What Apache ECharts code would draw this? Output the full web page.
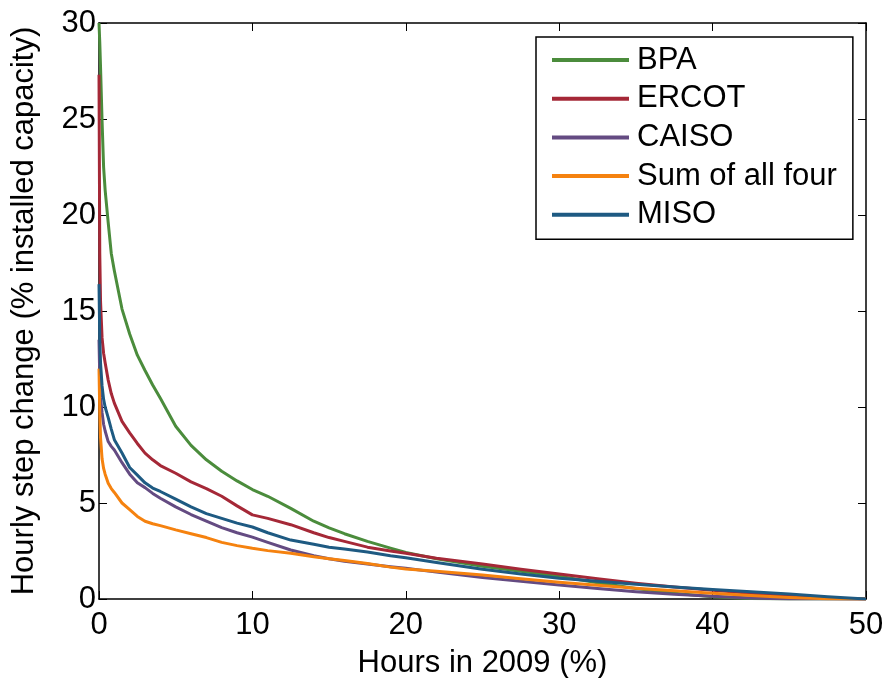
<!DOCTYPE html>
<html>
<head>
<meta charset="utf-8">
<script src="https://cdn.jsdelivr.net/npm/echarts@6/dist/echarts.min.js"></script>
<style>
html,body{margin:0;padding:0;background:#fff;}
#chart{width:888px;height:678px;}
</style>
</head>
<body>
<div id="chart"></div>
<script>
// Hours in 2009 (%)
var hours  = [0, 0.05, 0.1, 0.2, 0.3, 0.4, 0.6, 0.8, 1.0, 1.5, 2, 2.5, 3, 3.5, 4, 5, 6, 7, 8, 9, 10, 11, 12.5, 14, 15, 16, 17.5, 19, 20, 22, 25, 27.5, 30, 32.5, 35, 37.5, 40, 42.5, 45, 47.5, 50];
var bpa    = [30, 29, 27.7, 24.9, 22.5, 21.3, 19.6, 18.0, 17.1, 15.1, 13.8, 12.7, 11.9, 11.15, 10.45, 9.0, 8.0, 7.25, 6.65, 6.15, 5.7, 5.35, 4.72, 4.05, 3.7, 3.4, 3.0, 2.65, 2.42, 2.1, 1.7, 1.45, 1.18, 0.85, 0.55, 0.3, 0.12, 0.03, 0, 0, 0];
var ercot  = [27.3, 18, 15.5, 13.6, 12.8, 12.3, 11.4, 10.7, 10.2, 9.25, 8.65, 8.1, 7.6, 7.25, 6.95, 6.55, 6.1, 5.75, 5.35, 4.85, 4.38, 4.2, 3.87, 3.45, 3.2, 3.0, 2.7, 2.5, 2.38, 2.12, 1.82, 1.55, 1.3, 1.05, 0.82, 0.62, 0.45, 0.3, 0.15, 0.03, 0];
var caiso  = [13.5, 11.5, 10.5, 9.7, 9.1, 8.75, 8.2, 7.95, 7.76, 7.1, 6.5, 6.05, 5.8, 5.5, 5.25, 4.8, 4.4, 4.05, 3.72, 3.45, 3.22, 2.95, 2.55, 2.25, 2.1, 1.97, 1.82, 1.68, 1.6, 1.4, 1.12, 0.92, 0.73, 0.55, 0.38, 0.25, 0.14, 0.05, 0, 0, 0];
var sumAll = [12.0, 9.7, 8.4, 7.3, 6.8, 6.5, 6.03, 5.75, 5.55, 5.0, 4.65, 4.3, 4.05, 3.92, 3.82, 3.6, 3.4, 3.2, 2.95, 2.78, 2.64, 2.52, 2.38, 2.2, 2.1, 2.0, 1.85, 1.66, 1.56, 1.45, 1.25, 1.05, 0.87, 0.72, 0.56, 0.43, 0.3, 0.18, 0.08, 0.01, 0];
var miso   = [16.4, 13.5, 12.3, 11.1, 10.4, 10.0, 9.45, 8.85, 8.3, 7.6, 6.85, 6.45, 6.05, 5.78, 5.6, 5.2, 4.8, 4.45, 4.2, 3.95, 3.75, 3.45, 3.07, 2.85, 2.7, 2.6, 2.45, 2.25, 2.15, 1.9, 1.55, 1.3, 1.08, 0.92, 0.77, 0.62, 0.5, 0.38, 0.26, 0.12, 0];

var seriesNames = ['BPA', 'ERCOT', 'CAISO', 'Sum of all four', 'MISO'];
var seriesValues = [bpa, ercot, caiso, sumAll, miso];
var seriesColors = ['#4b8c3c', '#a52837', '#644b82', '#f5820f', '#1e5a82'];

var FONT = '"Liberation Sans", Arial, Helvetica, sans-serif';
var FS = 31;

function pairs(ys) {
  return hours.map(function (x, i) { return [x, ys[i]]; });
}

var chart = echarts.init(document.getElementById('chart'));
var axisLineStyle = { color: '#000', width: 1.5 };
var tickStyle = { show: true, inside: true, length: 8, lineStyle: { color: '#000', width: 1 } };

chart.setOption({
  animation: false,
  backgroundColor: '#fff',
  textStyle: { fontFamily: FONT },
  grid: { left: 99, right: 22, top: 23, bottom: 79, containLabel: false, outerBoundsMode: 'none' },
  legend: {
    orient: 'vertical',
    left: 536,
    top: 37,
    padding: [7.5, 16, 9, 16],
    itemGap: 7.7,
    itemWidth: 77,
    itemHeight: 4,
    icon: 'rect',
    borderColor: '#000',
    borderWidth: 1.5,
    backgroundColor: '#fff',
    textStyle: { fontSize: FS, color: '#000', fontFamily: FONT, lineHeight: 31, padding: [0, 0, 0, 3] },
    data: seriesNames
  },
  xAxis: [{
    type: 'value', min: 0, max: 50, interval: 10,
    name: 'Hours in 2009 (%)', nameLocation: 'middle', nameGap: 49,
    nameTextStyle: { fontSize: FS, color: '#000', fontFamily: FONT },
    axisLine: { show: true, onZero: false, lineStyle: axisLineStyle },
    axisTick: tickStyle,
    axisLabel: { fontSize: FS, color: '#000', margin: 11, fontFamily: FONT },
    splitLine: { show: false }
  }, {
    type: 'value', min: 0, max: 50, interval: 10, position: 'top',
    axisLine: { show: true, onZero: false, lineStyle: axisLineStyle },
    axisTick: tickStyle,
    axisLabel: { show: false },
    splitLine: { show: false }
  }],
  yAxis: [{
    type: 'value', min: 0, max: 30, interval: 5,
    name: 'Hourly step change (% installed capacity)', nameLocation: 'middle', nameGap: 59,
    nameRotate: 90,
    nameTextStyle: { fontSize: FS, color: '#000', fontFamily: FONT },
    axisLine: { show: true, onZero: false, lineStyle: axisLineStyle },
    axisTick: tickStyle,
    axisLabel: { fontSize: FS, color: '#000', margin: 3, fontFamily: FONT },
    splitLine: { show: false }
  }, {
    type: 'value', min: 0, max: 30, interval: 5, position: 'right',
    axisLine: { show: true, onZero: false, lineStyle: axisLineStyle },
    axisTick: tickStyle,
    axisLabel: { show: false },
    splitLine: { show: false }
  }],
  series: seriesNames.map(function (n, i) {
    return {
      name: n,
      type: 'line',
      data: pairs(seriesValues[i]),
      showSymbol: false,
      symbol: 'none',
      color: seriesColors[i],
      lineStyle: { width: 3, color: seriesColors[i], join: 'round' },
      clip: true,
      z: 2 + i
    };
  })
});
</script>
</body>
</html>
